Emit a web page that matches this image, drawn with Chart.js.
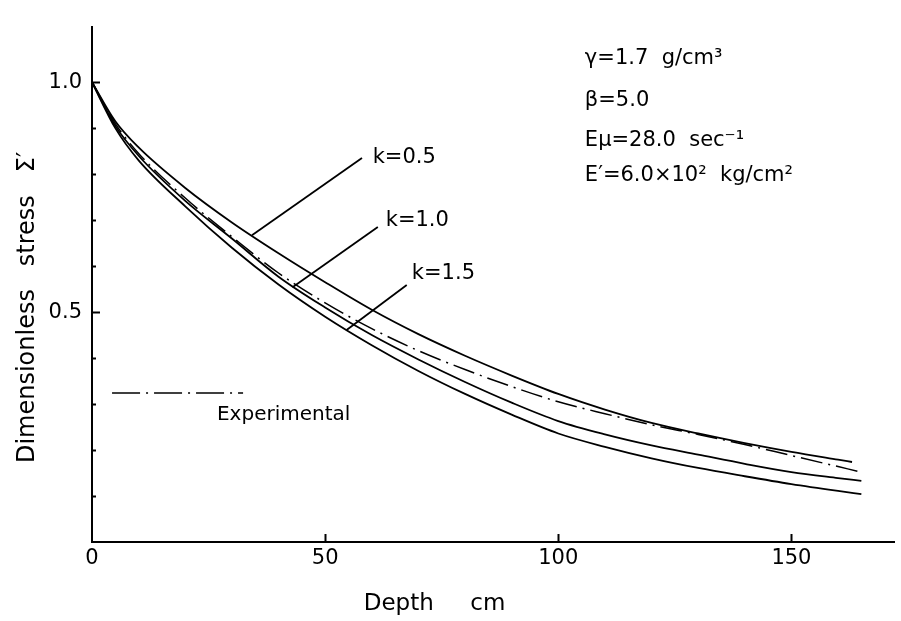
<!DOCTYPE html>
<html>
<head>
<meta charset="utf-8">
<script src="https://cdn.jsdelivr.net/npm/chart.js@4.4.0/dist/chart.umd.min.js"></script>
<style>
  html, body { margin: 0; padding: 0; background: #fff; }
  #wrap { width: 901px; height: 621px; }
</style>
</head>
<body>
<div id="wrap"><canvas id="stressChart" width="901" height="621"></canvas></div>
<script>
// Depth (cm) at which the curves were read
const depthCm  = [0, 5, 10, 20, 30, 40, 50, 60, 70, 80, 90, 100, 110, 120, 130, 140, 150, 160, 165];
// k = 0.5 stops a bit earlier than the others
const depthK05 = [0, 5, 10, 20, 30, 40, 50, 60, 70, 80, 90, 100, 110, 120, 130, 140, 150, 160, 163];

// Dimensionless stress
const stressK05 = [1.0, 0.915, 0.858, 0.770, 0.695, 0.628, 0.565, 0.505, 0.452, 0.405, 0.362, 0.322, 0.288, 0.259, 0.236, 0.215, 0.196, 0.179, 0.174];
const stressK10 = [1.0, 0.905, 0.840, 0.742, 0.660, 0.577, 0.510, 0.450, 0.397, 0.348, 0.303, 0.263, 0.234, 0.210, 0.190, 0.170, 0.152, 0.139, 0.133];
const stressK15 = [1.0, 0.900, 0.830, 0.730, 0.640, 0.560, 0.490, 0.428, 0.372, 0.322, 0.277, 0.236, 0.207, 0.182, 0.161, 0.143, 0.126, 0.111, 0.104];
const stressExp = [1.0, 0.910, 0.845, 0.748, 0.664, 0.585, 0.520, 0.464, 0.416, 0.375, 0.338, 0.305, 0.279, 0.255, 0.234, 0.212, 0.188, 0.164, 0.152];

// Axis ticks
const xTickValues = [0, 50, 100, 150];
const yTickValues = [0.1, 0.2, 0.3, 0.4, 0.5, 0.6, 0.7, 0.8, 0.9, 1.0];
const yTickLabels = { 0.5: '0.5', 1: '1.0' };

// Text on the figure
const paramLines = ['γ=1.7  g/cm³', 'β=5.0', 'Eμ=28.0  sec⁻¹', 'E′=6.0×10²  kg/cm²'];

const FONT = "'DejaVu Sans', sans-serif";
Chart.defaults.font.family = FONT;
Chart.defaults.color = '#000';

function toPoints(xs, ys) {
    return xs.map((x, i) => ({ x: x, y: ys[i] }));
}

// Leader lines + labels for the theory curves (data coordinates)
const curveLabels = [
    { text: 'k=0.5', from: [57.9, 0.835], to: [34.3, 0.667], at: [60.2, 0.837] },
    { text: 'k=1.0', from: [61.3, 0.685], to: [43.0, 0.554], at: [63.0, 0.700] },
    { text: 'k=1.5', from: [67.5, 0.559], to: [54.6, 0.461], at: [68.6, 0.583] }
];

const figureText = {
    id: 'figureText',
    afterDatasetsDraw(chart) {
        const { ctx, scales: { x, y } } = chart;
        ctx.save();
        ctx.strokeStyle = '#000';
        ctx.fillStyle = '#000';
        ctx.lineCap = 'butt';

        // inward tick marks
        ctx.lineWidth = 2;
        const x0 = x.getPixelForValue(0);
        const y0 = y.getPixelForValue(0);
        yTickValues.forEach(v => {
            const py = Math.round(y.getPixelForValue(v)) + 0.5;
            const len = yTickLabels[v] ? 8 : 4;
            ctx.beginPath();
            ctx.moveTo(x0, py);
            ctx.lineTo(x0 + len, py);
            ctx.stroke();
        });
        xTickValues.slice(1).forEach(v => {
            const px = Math.round(x.getPixelForValue(v)) + 0.5;
            ctx.beginPath();
            ctx.moveTo(px, y0);
            ctx.lineTo(px, y0 - 8);
            ctx.stroke();
        });

        // curve labels
        ctx.lineWidth = 1.8;
        ctx.font = '21px ' + FONT;
        ctx.textBaseline = 'middle';
        ctx.textAlign = 'left';
        curveLabels.forEach(l => {
            ctx.beginPath();
            ctx.moveTo(x.getPixelForValue(l.from[0]), y.getPixelForValue(l.from[1]));
            ctx.lineTo(x.getPixelForValue(l.to[0]), y.getPixelForValue(l.to[1]));
            ctx.stroke();
            ctx.fillText(l.text, x.getPixelForValue(l.at[0]), y.getPixelForValue(l.at[1]));
        });

        // legend for the experimental curve
        ctx.lineWidth = 1.6;
        ctx.setLineDash([28, 6, 2, 6]);
        ctx.beginPath();
        ctx.moveTo(x.getPixelForValue(4.3), y.getPixelForValue(0.324));
        ctx.lineTo(x.getPixelForValue(32.4), y.getPixelForValue(0.324));
        ctx.stroke();
        ctx.setLineDash([]);
        ctx.font = '20px ' + FONT;
        ctx.fillText('Experimental', x.getPixelForValue(26.8), y.getPixelForValue(0.276));

        // parameter block
        ctx.font = '21px ' + FONT;
        const rows = [1.052, 0.961, 0.872, 0.796];
        paramLines.forEach((t, i) => {
            ctx.fillText(t, x.getPixelForValue(105.7), y.getPixelForValue(rows[i]));
        });
        ctx.restore();
    }
};

const lineStyle = {
    borderColor: '#000',
    borderWidth: 1.8,
    pointRadius: 0,
    fill: false,
    cubicInterpolationMode: 'monotone'
};

new Chart(document.getElementById('stressChart').getContext('2d'), {
    type: 'line',
    data: {
        datasets: [
            Object.assign({ label: 'k=0.5', data: toPoints(depthK05, stressK05) }, lineStyle),
            Object.assign({ label: 'k=1.0', data: toPoints(depthCm, stressK10) }, lineStyle),
            Object.assign({ label: 'k=1.5', data: toPoints(depthCm, stressK15) }, lineStyle),
            Object.assign({ label: 'Experimental', data: toPoints(depthCm, stressExp) }, lineStyle, { borderDash: [22, 6, 2, 6], borderWidth: 1.5 })
        ]
    },
    options: {
        responsive: false,
        animation: false,
        layout: { padding: { left: 0, right: 7, top: 27, bottom: 0 } },
        plugins: {
            legend: { display: false },
            tooltip: { enabled: false }
        },
        scales: {
            x: {
                type: 'linear',
                min: 0,
                max: 172,
                afterBuildTicks: scale => { scale.ticks = xTickValues.map(v => ({ value: v })); },
                afterFit: scale => { scale.height = 79; },
                border: { color: '#000', width: 2 },
                grid: { display: true, drawOnChartArea: false, drawTicks: false },
                ticks: { font: { size: 21 }, color: '#000', padding: 4, autoSkip: false, maxRotation: 0 },
                title: {
                    display: true,
                    text: 'Depth     cm                ',
                    font: { size: 23 },
                    color: '#000',
                    padding: { top: 0, bottom: 3 }
                }
            },
            y: {
                type: 'linear',
                min: 0,
                max: 1.12,
                afterBuildTicks: scale => { scale.ticks = yTickValues.map(v => ({ value: v })); },
                afterFit: scale => { scale.width = 92; },
                border: { color: '#000', width: 2 },
                grid: { display: true, drawOnChartArea: false, drawTicks: false },
                ticks: {
                    font: { size: 21 },
                    color: '#000',
                    padding: 10,
                    autoSkip: false,
                    callback: v => yTickLabels[v] || ''
                },
                title: {
                    display: true,
                    text: 'Dimensionless   stress   Σ′      ',
                    font: { size: 24 },
                    color: '#000',
                    padding: { top: 13, bottom: 0 }
                }
            }
        }
    },
    plugins: [figureText]
});
</script>
</body>
</html>
